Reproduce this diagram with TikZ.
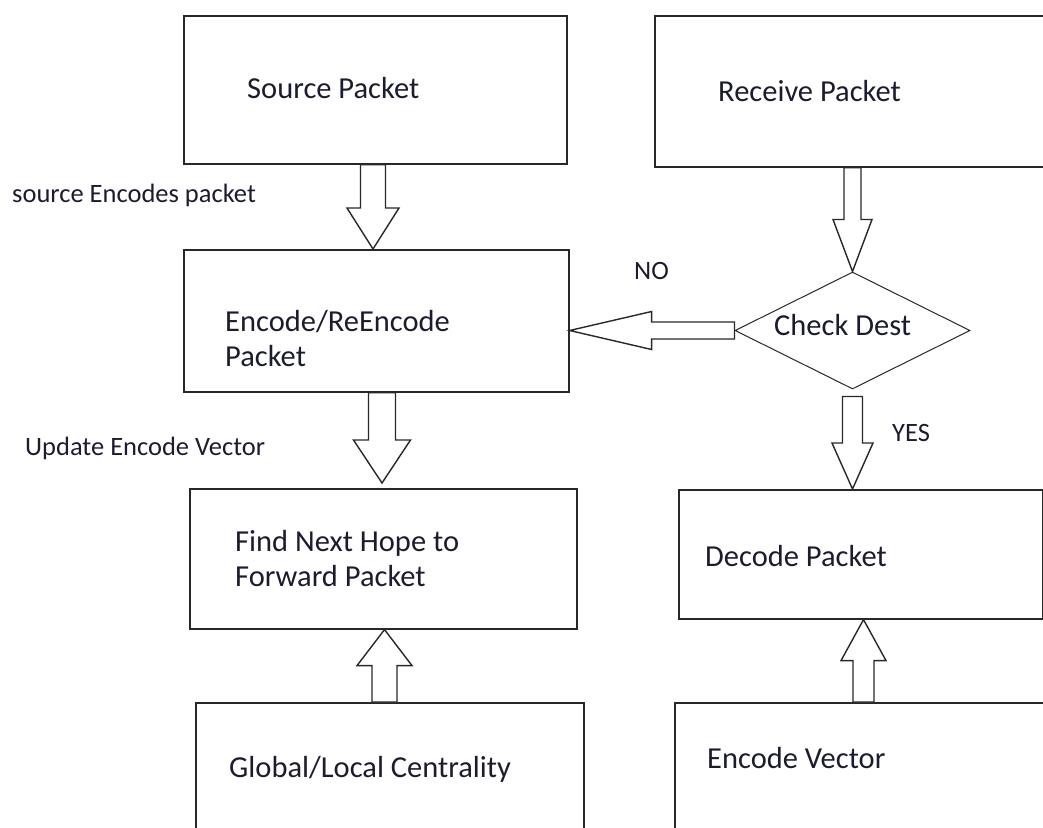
\documentclass[tikz,border=0pt]{standalone}
\usepackage{fontspec}
\setmainfont{Carlito}
\usetikzlibrary{shapes.geometric,calc}
\definecolor{ink}{RGB}{28,28,48}
\definecolor{edge}{RGB}{40,40,40}

% block arrow along the y axis: start, tip, shaft half width, head half width, head length
\newcommand\vblock[5]{%
  \draw[blk] let \p1=(#1), \p2=(#2) in
    (\x2-#3,\y1) -- (\x2-#3,\y2+#5) -- (\x2-#4,\y2+#5) -- (\x2,\y2)
    -- (\x2+#4,\y2+#5) -- (\x2+#3,\y2+#5) -- (\x2+#3,\y1) -- cycle;}
% block arrow along the x axis
\newcommand\hblock[5]{%
  \draw[blk] let \p1=(#1), \p2=(#2) in
    (\x1,\y2-#3) -- (\x2+#5,\y2-#3) -- (\x2+#5,\y2-#4) -- (\x2,\y2)
    -- (\x2+#5,\y2+#4) -- (\x2+#5,\y2+#3) -- (\x1,\y2+#3) -- cycle;}

\begin{document}
\begin{tikzpicture}[x=1pt,y=-1pt,
  box/.style={draw=edge,line width=1.6pt,rectangle,anchor=north west,inner sep=0pt},
  txt/.style={text=ink,inner sep=0pt,anchor=west,align=left,
    font=\fontsize{30.5pt}{35pt}\selectfont,text height=19.6pt,text depth=0pt},
  side/.style={txt,font=\fontsize{26.5pt}{32pt}\selectfont,text height=17pt},
  blk/.style={draw=edge,line width=1.4pt,line join=miter,fill=white},
  decision/.style={diamond,draw=edge,line width=1pt,inner sep=0pt,
    minimum width=235pt,minimum height=117pt}]
\useasboundingbox (0,0) rectangle (1043,827);
\clip (0,0) rectangle (1043,827);

% boxes
\node[box,minimum width=383pt,minimum height=148pt] (src)  at (183,15)  {};
\node[box,minimum width=420pt,minimum height=151pt] (recv) at (654,15)  {};
\node[box,minimum width=385pt,minimum height=142pt] (enc)  at (183,249) {};
\node[box,minimum width=387pt,minimum height=140pt] (find) at (189,488) {};
\node[box,minimum width=388pt,minimum height=170pt] (glob) at (195,702) {};
\node[box,minimum width=364pt,minimum height=129pt] (dec)  at (678,489) {};
\node[box,minimum width=400pt,minimum height=170pt] (ev)   at (674,702) {};
\node[decision] (chk) at (852.5,330.5) {};

% box texts (multi-line nodes are placed by their last line)
\node[txt] (tsrc)  at (247,89)  {Source Packet};
\node[txt] (trecv) at (718,92)  {Receive Packet};
\node[txt] (tenc)  at (225,357) {Encode/ReEncode\\Packet};
\node[txt] (tfind) at (235,577) {Find Next Hope to\\Forward Packet};
\node[txt] (tglob) at (229,768) {Global/Local Centrality};
\node[txt] (tchk)  at (774,326) {Check Dest};
\node[txt] (tdec)  at (705,557) {Decode Packet};
\node[txt] (tev)   at (707,759) {Encode Vector};

% side labels
\node[side] (l1) at (12,194)  {source Encodes packet};
\node[side] (l2) at (25,447)  {Update Encode Vector};
\node[side] (lno)  at (634,271) {NO};
\node[side] (lyes) at (892,433) {YES};

% arrow axes
\coordinate (x1) at (373,0);
\coordinate (x2) at (852.5,0);
\coordinate (x5) at (382,0);
\coordinate (x6) at (384.5,0);
\coordinate (x7) at (863.5,0);
\path (find.north -| x5) ++(0,-5) coordinate (t5);
\path (chk.south) ++(0,7) coordinate (s4);

% block arrows
\vblock{src.south -| x1}{enc.north -| x1}{12.5pt}{26pt}{41pt}
\vblock{recv.south -| x2}{chk.north}{8.5pt}{19.5pt}{52pt}
\hblock{chk.west}{enc.east |- chk.west}{8.5pt}{19pt}{82pt}
\vblock{s4}{dec.north -| s4}{10pt}{20.5pt}{46pt}
\vblock{enc.south -| x5}{t5}{13.5pt}{28.5pt}{43pt}
\vblock{glob.north -| x6}{find.south -| x6}{12.5pt}{27.5pt}{-36pt}
\vblock{ev.north -| x7}{dec.south -| x7}{10.5pt}{22.5pt}{-41pt}
\end{tikzpicture}
\end{document}
